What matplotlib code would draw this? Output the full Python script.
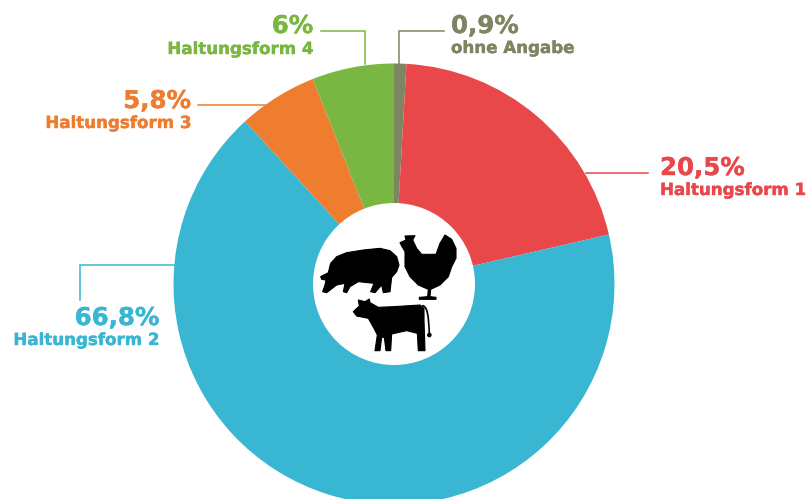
import matplotlib
matplotlib.use("Agg")
import matplotlib.pyplot as plt
import matplotlib.patheffects as pe
from matplotlib.patches import Polygon, Circle
from matplotlib.path import Path
from matplotlib.patches import PathPatch

categories = ["ohne Angabe", "Haltungsform 1", "Haltungsform 2", "Haltungsform 3", "Haltungsform 4"]
shares = [0.9, 20.5, 66.8, 5.8, 6.0]
share_labels = ["0,9%", "20,5%", "66,8%", "5,8%", "6%"]
colors = ["#7D8661", "#E8484A", "#38B6D2", "#EE7D30", "#7AB642"]

W, H = 809, 499
plt.rcParams["font.family"] = ["DejaVu Sans"]

fig = plt.figure(figsize=(W / 100, H / 100), dpi=100)
ax = fig.add_axes([0, 0, 1, 1])


def flip(points):
    """Convert top-left pixel coordinates to the axes' y-up system."""
    return [(x, H - y) for x, y in points]


ax.pie(shares, colors=colors, startangle=90, counterclock=False,
       center=(394, H - 284), radius=220.5,
       wedgeprops=dict(linewidth=0), normalize=True)
ax.add_patch(Circle((394, H - 284), 81, facecolor="white", edgecolor="none", zorder=3))
ax.set_xlim(0, W)
ax.set_ylim(0, H)
ax.set_aspect("equal")
ax.axis("off")

# Leader lines
leaders = {
    "ohne Angabe": [(399, 64), (399, 31), (444, 31)],
    "Haltungsform 1": [(586, 173), (648, 173)],
    "Haltungsform 2": [(174, 265), (80, 265), (80, 300)],
    "Haltungsform 3": [(198, 104.5), (265, 104.5)],
    "Haltungsform 4": [(365, 64), (365, 31), (321, 31)],
}
for name, color in zip(categories, colors):
    xs, ys = zip(*flip(leaders[name]))
    ax.plot(xs, ys, color=color, lw=1.1, solid_joinstyle="miter", zorder=2)

# Label blocks: anchor x, alignment, baseline of value, baseline of name
blocks = {
    "ohne Angabe": (451, "left", 33, 53),
    "Haltungsform 1": (660, "left", 175, 195),
    "Haltungsform 2": (159, "right", 325, 345),
    "Haltungsform 3": (191, "right", 108, 128),
    "Haltungsform 4": (313, "right", 33, 54),
}
for name, value, color in zip(categories, share_labels, colors):
    x, ha, y1, y2 = blocks[name]
    heavy = [pe.withStroke(linewidth=0.3, foreground=color)]
    ax.text(x, H - y1, value, color=color, ha=ha, va="baseline",
            fontsize=17.6, fontweight="bold", path_effects=heavy)
    ax.text(x, H - y2, name, color=color, ha=ha, va="baseline",
            fontsize=12.0, fontweight="bold", path_effects=heavy)


def icon(points):
    """Add a black silhouette given as pixel offsets in the 3x icon grid."""
    px = [(300 + x / 3, 220 + y / 3) for x, y in points]
    ax.add_patch(Polygon(flip(px), closed=True, facecolor="black",
                         edgecolor="black", lw=0.8, zorder=4, joinstyle="round"))


pig = [(62, 170), (85, 158), (92, 130), (110, 110), (140, 98), (190, 90), (240, 85),
       (270, 92), (290, 110), (297, 135), (290, 155), (275, 172), (270, 215), (250, 218),
       (245, 195), (225, 218), (212, 215), (222, 190), (175, 185), (150, 200), (140, 218),
       (130, 215), (135, 190), (110, 195), (80, 218), (68, 215), (75, 195), (78, 180), (65, 178)]
hen = [(300, 68), (318, 60), (315, 48), (345, 47), (338, 60), (350, 85), (365, 103),
       (408, 103), (420, 70), (435, 45), (455, 58), (468, 85), (468, 115), (455, 140),
       (445, 170), (420, 195), (392, 208), (390, 230), (408, 232), (408, 238), (358, 238),
       (358, 232), (383, 230), (385, 208), (355, 195), (330, 170), (315, 140), (315, 95), (305, 78)]
cow = [(160, 275), (178, 258), (175, 240), (195, 245), (208, 237), (210, 248), (235, 262),
       (280, 260), (360, 255), (372, 265), (372, 300), (375, 392), (355, 392), (352, 340),
       (320, 332), (275, 342), (272, 392), (258, 392), (253, 352), (245, 352), (240, 392),
       (225, 392), (232, 345), (222, 325), (205, 295), (170, 288)]
for shape in (pig, hen, cow):
    icon(shape)

# Cow tail
tail = [(366, 257), (382, 257), (386, 285), (388, 345)]
tx = [(300 + x / 3, 220 + y / 3) for x, y in tail]
ax.add_patch(PathPatch(Path(flip(tx), [Path.MOVETO, Path.CURVE4, Path.CURVE4, Path.CURVE4]),
                       facecolor="none", edgecolor="black", lw=1.2, zorder=4))
ax.add_patch(Circle((300 + 388 / 3, H - (220 + 345 / 3)), 1.6, color="black", zorder=4))

fig.savefig("out.png", dpi=100)
